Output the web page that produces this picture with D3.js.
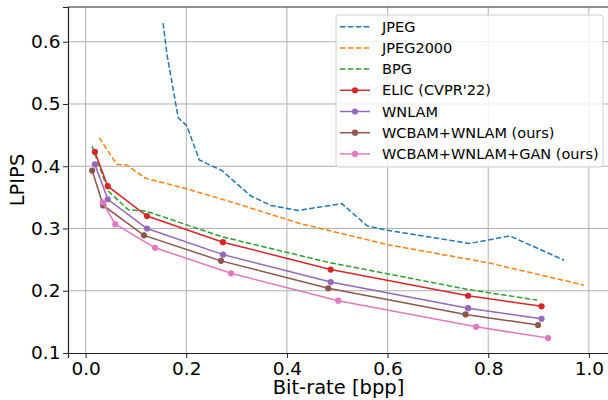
<!DOCTYPE html>
<html>
<head>
<meta charset="utf-8">
<script src="https://cdn.jsdelivr.net/npm/d3@7"></script>
<style>
  body { margin: 0; background: #fff; }
  text { font-family: "DejaVu Sans", sans-serif; fill: #000; }
</style>
</head>
<body>
<div id="chart"></div>
<script>
// LPIPS vs bit-rate

let seriesNames = ["JPEG", "JPEG2000", "BPG", "ELIC (CVPR'22)", "WNLAM", "WCBAM+WNLAM (ours)", "WCBAM+WNLAM+GAN (ours)"];
let seriesColors = ["#1f77b4", "#ff7f0e", "#2ca02c", "#d62728", "#9467bd", "#8c564b", "#e377c2"];
let seriesDashed = [true, true, true, false, false, false, false];

let jpegBpp   = [0.154, 0.162, 0.184, 0.201, 0.226, 0.271, 0.327, 0.368, 0.422, 0.509, 0.560, 0.600, 0.763, 0.843, 0.951];
let jpegLpips = [0.630, 0.578, 0.478, 0.465, 0.410, 0.393, 0.353, 0.337, 0.329, 0.340, 0.304, 0.297, 0.276, 0.288, 0.249];

let j2kBpp   = [0.027, 0.062, 0.082, 0.118, 0.200, 0.300, 0.426, 0.600, 0.800, 0.990];
let j2kLpips = [0.446, 0.403, 0.402, 0.381, 0.364, 0.340, 0.308, 0.274, 0.245, 0.209];

let bpgBpp   = [0.013, 0.045, 0.085, 0.120, 0.270, 0.480, 0.760, 0.897];
let bpgLpips = [0.432, 0.360, 0.330, 0.328, 0.287, 0.246, 0.202, 0.185];

let elicBpp   = [0.0185, 0.044, 0.122, 0.273, 0.487, 0.760, 0.906];
let elicLpips = [0.423, 0.368, 0.320, 0.278, 0.234, 0.192, 0.175];

let wnlamBpp   = [0.0185, 0.044, 0.122, 0.273, 0.487, 0.760, 0.906];
let wnlamLpips = [0.403, 0.347, 0.300, 0.258, 0.214, 0.172, 0.155];

let wcbamBpp   = [0.013, 0.035, 0.116, 0.269, 0.482, 0.755, 0.899];
let wcbamLpips = [0.393, 0.337, 0.289, 0.248, 0.204, 0.162, 0.145];

let ganBpp   = [0.034, 0.059, 0.138, 0.289, 0.502, 0.776, 0.919];
let ganLpips = [0.342, 0.307, 0.269, 0.228, 0.184, 0.142, 0.124];

let xTicks = [0.0, 0.2, 0.4, 0.6, 0.8, 1.0];
let yTicks = [0.1, 0.2, 0.3, 0.4, 0.5, 0.6];

let allBpp = [jpegBpp, j2kBpp, bpgBpp, elicBpp, wnlamBpp, wcbamBpp, ganBpp];
let allLpips = [jpegLpips, j2kLpips, bpgLpips, elicLpips, wnlamLpips, wcbamLpips, ganLpips];

let width = 608, height = 400;
let margin = {top: 7, right: -1, bottom: 47, left: 68};
let innerWidth = width - margin.left - margin.right;
let innerHeight = height - margin.top - margin.bottom;

let svg = d3.select("#chart")
  .append("svg")
  .attr("width", width)
  .attr("height", height);

let g = svg.append("g")
  .attr("transform", "translate(" + margin.left + "," + margin.top + ")");

let x = d3.scaleLinear().domain([-0.035, 1.04]).range([0, innerWidth]);
let y = d3.scaleLinear().domain([0.1, 0.6558]).range([innerHeight, 0]);

// grid
g.selectAll(".gx").data(xTicks).join("line")
  .attr("x1", d => x(d)).attr("x2", d => x(d))
  .attr("y1", 0).attr("y2", innerHeight)
  .attr("stroke", "#b0b0b0").attr("stroke-width", 1);
g.selectAll(".gy").data(yTicks.slice(1)).join("line")
  .attr("x1", 0).attr("x2", innerWidth)
  .attr("y1", d => y(d)).attr("y2", d => y(d))
  .attr("stroke", "#b0b0b0").attr("stroke-width", 1);

// lines
let line = d3.line().x(d => x(d[0])).y(d => y(d[1]));
let series = seriesNames.map((name, i) => {
  let pts = allBpp[i].map((b, k) => [b, allLpips[i][k]]);
  return {name: name, color: seriesColors[i], dashed: seriesDashed[i], pts: pts};
});

series.forEach(s => {
  g.append("path")
    .attr("d", line(s.pts))
    .attr("fill", "none")
    .attr("stroke", s.color)
    .attr("stroke-width", 1.5)
    .attr("stroke-dasharray", s.dashed ? "5.5,2.4" : null);
  if (!s.dashed) {
    g.selectAll(null).data(s.pts).join("circle")
      .attr("cx", d => x(d[0])).attr("cy", d => y(d[1]))
      .attr("r", 3.1).attr("fill", s.color);
  }
});

// axes
let xAxis = g.append("g")
  .attr("transform", "translate(0," + innerHeight + ")")
  .call(d3.axisBottom(x).tickValues(xTicks).tickFormat(d3.format(".1f")).tickSize(5).tickPadding(4));
let yAxis = g.append("g")
  .call(d3.axisLeft(y).tickValues(yTicks).tickFormat(d3.format(".1f")).tickSize(5).tickPadding(2.5));
[xAxis, yAxis].forEach(a => {
  a.attr("font-size", null).attr("font-family", null);
  a.select(".domain").attr("stroke", "#222").attr("stroke-width", 1.2);
  a.selectAll(".tick line").attr("stroke", "#222");
  a.selectAll("text").style("font-size", "18.5px").style("font-family", "DejaVu Sans").attr("fill", "#000");
});
// top spine
g.append("line").attr("x1", 0).attr("x2", innerWidth).attr("y1", 0).attr("y2", 0)
  .attr("stroke", "#222").attr("stroke-width", 1.2);

// axis labels
svg.append("text")
  .attr("x", margin.left + innerWidth / 2).attr("y", 394)
  .attr("text-anchor", "middle").style("font-size", "19.5px")
  .text("Bit-rate [bpp]");
svg.append("text")
  .attr("transform", "translate(24," + (margin.top + innerHeight / 2) + ") rotate(-90)")
  .attr("text-anchor", "middle").style("font-size", "19.5px")
  .text("LPIPS");

// legend
let legend = svg.append("g").attr("transform", "translate(336,15)");
legend.append("rect")
  .attr("width", 267).attr("height", 152).attr("rx", 3)
  .attr("fill", "#fff").attr("fill-opacity", 0.8)
  .attr("stroke", "#d0d0d0").attr("stroke-width", 1);
series.forEach((s, i) => {
  let row = legend.append("g").attr("transform", "translate(0," + (11.7 + i * 21.2) + ")");
  row.append("line").attr("x1", 4).attr("x2", 34)
    .attr("stroke", s.color).attr("stroke-width", 1.5)
    .attr("stroke-dasharray", s.dashed ? "5.5,2.4" : null);
  if (!s.dashed) row.append("circle").attr("cx", 19).attr("r", 3.1).attr("fill", s.color);
  row.append("text").attr("x", 46).attr("dy", "0.35em")
    .style("font-size", "14.5px").text(s.name);
});
</script>
</body>
</html>
